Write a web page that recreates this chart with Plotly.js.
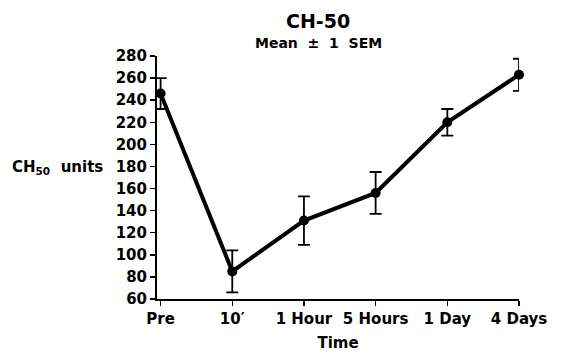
<!DOCTYPE html>
<html><head><meta charset="utf-8">
<script src="https://cdn.plot.ly/plotly-3.0.1.min.js"></script>
<style>html,body{margin:0;padding:0;background:#fff}</style>
</head><body>
<div id="chart" style="width:562px;height:354px"></div>
<script>
const categories = ["Pre", "10\u2032", "1 Hour", "5 Hours", "1 Day", "4 Days"];
const positions = [0, 1, 2, 3, 4, 5];
const means = [246, 85, 131, 156, 220, 263];
const sem = [14, 19, 22, 19, 12, 14.5];
const yTicks = [60, 80, 100, 120, 140, 160, 180, 200, 220, 240, 260, 280];

const F = "DejaVu Sans, Liberation Sans, Arial, sans-serif";
const S = "\u00a0\u00a0";
const trace = {
  x: positions, y: means, type: "scatter", mode: "lines+markers",
  line: {color: "#000", width: 4},
  marker: {color: "#000", size: 10},
  error_y: {type: "data", array: sem, visible: true, color: "#000", thickness: 1.8, width: 6},
  cliponaxis: false, hoverinfo: "none"
};
const layout = {
  width: 562, height: 354,
  margin: {l: 157, r: 43, t: 56, b: 55},
  paper_bgcolor: "#fff", plot_bgcolor: "#fff",
  showlegend: false,
  font: {family: F, color: "#000", size: 15, weight: "bold"},
  xaxis: {
    range: [-0.05, 5], tickvals: positions, ticktext: categories,
    showgrid: false, zeroline: false, showline: true, linecolor: "#000", linewidth: 2,
    ticks: "outside", ticklen: 5, tickwidth: 1.5, tickcolor: "#000",
    tickfont: {family: F, size: 15, weight: "bold", color: "#000"},
    title: {text: "Time", font: {family: F, size: 15, weight: "bold"}, standoff: 10},
    fixedrange: true
  },
  yaxis: {
    range: [60, 280], tickvals: yTicks,
    showgrid: false, zeroline: false, showline: true, linecolor: "#000", linewidth: 2,
    ticks: "outside", ticklen: 5, tickwidth: 1.5, tickcolor: "#000",
    tickfont: {family: F, size: 15, weight: "bold", color: "#000"},
    fixedrange: true
  },
  annotations: [
    {text: "CH-50", xref: "paper", yref: "paper", x: 0.445, y: 1.144, showarrow: false,
     xanchor: "center", yanchor: "middle", font: {family: F, size: 19, weight: "bold", color: "#000"}},
    {text: "Mean" + S + "\u00b1" + S + "1" + S + "SEM", xref: "paper", yref: "paper", x: 0.445, y: 1.053, showarrow: false,
     xanchor: "center", yanchor: "middle", font: {family: F, size: 14, weight: "bold", color: "#000"}},
    {text: "CH<sub>50</sub>" + S + "units", xref: "paper", yref: "paper", x: -0.406, y: 0.543, showarrow: false,
     xanchor: "left", yanchor: "middle", font: {family: F, size: 15, weight: "bold", color: "#000"}}
  ]
};
Plotly.newPlot("chart", [trace], layout, {staticPlot: true, displayModeBar: false});
</script>
</body></html>
